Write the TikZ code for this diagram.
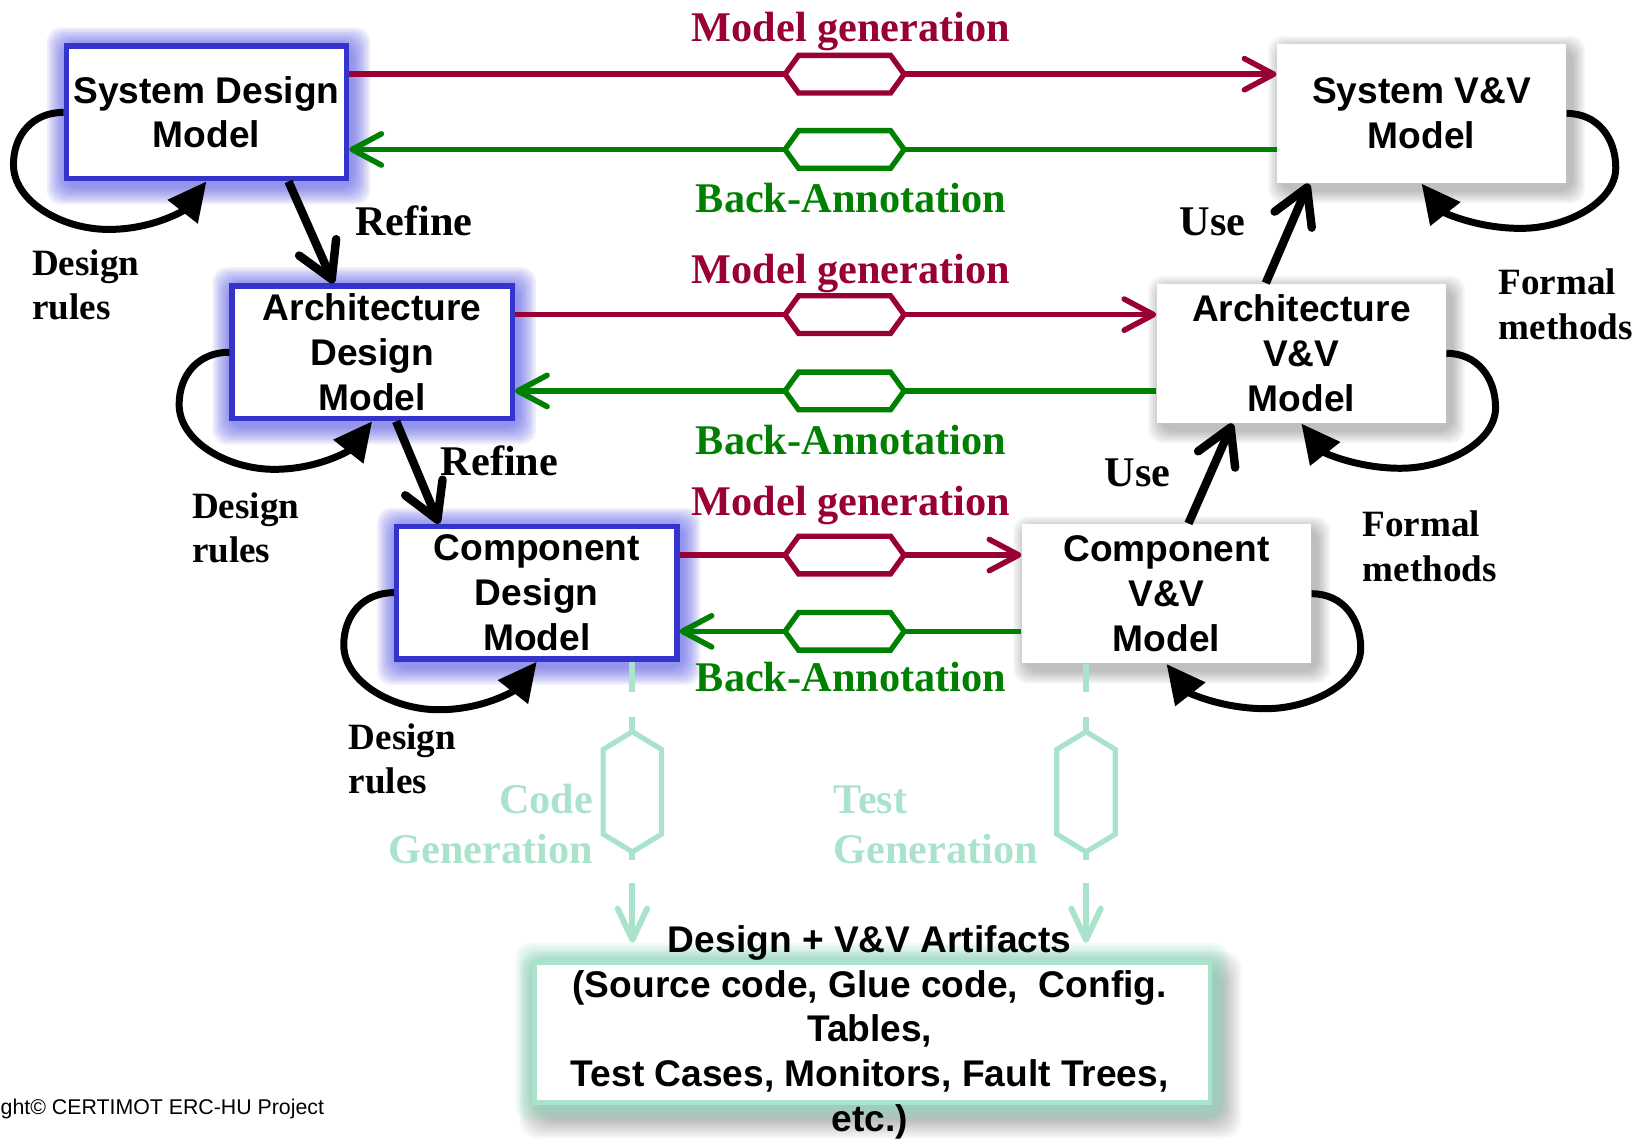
\documentclass[tikz,border=0pt]{standalone}
\usepackage{fontspec}
\setmainfont{Liberation Serif}
\setsansfont{Liberation Sans}
\usetikzlibrary{arrows.meta,calc}

\definecolor{wine}{HTML}{990033}
\definecolor{leaf}{HTML}{008000}
\definecolor{boxblue}{HTML}{3434CC}
\definecolor{haloblue}{HTML}{5252E2}
\definecolor{mint}{HTML}{A9E3CC}
\definecolor{mintglow}{HTML}{8FDDBE}

\pgfdeclarelayer{back}
\pgfsetlayers{back,main}

\tikzset{
  boxfont/.style={font=\sffamily\bfseries\fontsize{10.1}{12.15}\selectfont},
  lbl/.style={font=\rmfamily\bfseries\fontsize{11.5}{13}\selectfont, inner sep=0pt},
  smalllbl/.style={font=\rmfamily\bfseries\fontsize{10.1}{12}\selectfont, inner sep=0pt, anchor=base west},
  designbox/.style={boxfont, draw=boxblue, line width=1.45pt, fill=white,
    minimum width=2.68cm, minimum height=1.27cm, align=center, inner sep=0pt},
  vvbox/.style={boxfont, fill=white, minimum width=2.76cm, minimum height=1.33cm,
    align=center, inner sep=0pt},
  artbox/.style={draw=mint, line width=1.3pt, fill=white, minimum width=6.46cm,
    minimum height=1.34cm, inner sep=0pt},
  genline/.style={wine, line width=1.5pt, -{Straight Barb[length=8pt,width=8.5pt,round]}},
  backline/.style={leaf, line width=1.5pt, -{Straight Barb[length=8pt,width=8.5pt,round]}},
  bigarrow/.style={line width=2.3pt, -{Straight Barb[length=9.5pt,width=11pt,round]}},
  loopline/.style={line width=1.9pt, -{Triangle[length=10.5pt,width=10pt]}},
  mintline/.style={mint, line width=1.6pt},
  hexh/.pic={\path[pic actions, fill=white] (-57,0) -- (-44,-18) -- (44,-18) -- (57,0)
    -- (44,18) -- (-44,18) -- cycle;},
  hexv/.pic={\path[pic actions, fill=white] (0,-57.5) -- (28,-40.5) -- (28,40.5) -- (0,57.5)
    -- (-28,40.5) -- (-28,-40.5) -- cycle;},
}

\begin{document}
\begin{tikzpicture}[x=0.01cm, y=-0.01cm]
\useasboundingbox (0,0) rectangle (1568,1091);

% model boxes
\node[designbox] (sdm) at (197.5,107.5) {System Design\\Model};
\node[designbox] (adm) at (356,337) {Architecture\\Design\\Model};
\node[designbox] (cdm) at (513.5,567) {Component\\Design\\Model};
\node[vvbox] (svv) at (1360,108.5) {System V\&V\\Model};
\node[vvbox] (avv) at (1245,338) {Architecture\\V\&V\\Model};
\node[vvbox] (cvv) at (1116,568) {Component\\V\&V\\Model};
\node[artbox] (art) at (834.5,987.5) {};
\node[boxfont, align=center, inner sep=0pt] (arttext) at (832,987.5)
  {Design + V\&V Artifacts\\(Source code, Glue code,\ \ Config.\\Tables,\\Test Cases, Monitors, Fault Trees,\\etc.)};

% halos and shadows
\begin{pgfonlayer}{back}
  \foreach \n in {sdm,adm,cdm}{
    \foreach \k in {1,...,9}{
      \fill[haloblue, opacity=0.1, rounded corners=4pt]
        ($(\n.south west)+({2-2*\k},{4+2*\k})$) rectangle ($(\n.north east)+({2+2*\k},{3-2*\k})$);
    }
  }
  \foreach \n in {svv,avv,cvv}{
    \foreach \k in {1,...,8}{
      \fill[black, opacity=0.035, rounded corners=4pt]
        ($(\n.south west)+({5-1.6*\k},{6+1.6*\k})$) rectangle ($(\n.north east)+({5+1.6*\k},{6-1.6*\k})$);
    }
  }
  \foreach \k in {1,...,10}{
    \fill[black, opacity=0.03, rounded corners=5pt]
      ($(art.south west)+({8-2*\k},{12+2*\k})$) rectangle ($(art.north east)+({8+2*\k},{12-2*\k})$);
  }
  \foreach \k in {1,...,8}{
    \fill[mintglow, opacity=0.11, rounded corners=4pt]
      ($(art.south west)+({-2*\k},{2*\k})$) rectangle ($(art.north east)+({2*\k},{-2*\k})$);
  }
\end{pgfonlayer}

% model generation / back-annotation lanes
\coordinate (r1) at (0,71);
\coordinate (g1) at (0,143);
\coordinate (r2) at (0,301);
\coordinate (g2) at (0,374);
\coordinate (r3) at (0,531);
\coordinate (g3) at (0,604);
\coordinate (hx) at (808,0);
\draw[genline] (sdm.east |- r1) -- (svv.west |- r1);
\draw[backline] (svv.west |- g1) -- (sdm.east |- g1);
\draw[genline] (adm.east |- r2) -- (avv.west |- r2);
\draw[backline] (avv.west |- g2) -- (adm.east |- g2);
\draw[genline] (cdm.east |- r3) -- (cvv.west |- r3);
\draw[backline] (cvv.west |- g3) -- (cdm.east |- g3);
\foreach \c in {r1,r2,r3}{ \pic[draw=wine, line width=1.45pt] at (hx |- \c) {hexh}; }
\foreach \c in {g1,g2,g3}{ \pic[draw=leaf, line width=1.45pt] at (hx |- \c) {hexh}; }

\node[lbl, text=wine, anchor=base] (mg1) at (814,40) {Model generation};
\node[lbl, text=leaf, anchor=base] (ba1) at (814,203) {Back-Annotation};
\node[lbl, text=wine, anchor=base] (mg2) at (814,271) {Model generation};
\node[lbl, text=leaf, anchor=base] (ba2) at (814,435) {Back-Annotation};
\node[lbl, text=wine, anchor=base] (mg3) at (814,493) {Model generation};
\node[lbl, text=leaf, anchor=base] (ba3) at (814,662) {Back-Annotation};

% refine / use arrows
\coordinate (f1a) at (276,0);  \coordinate (f1b) at (319,0);
\coordinate (f2a) at (379,0);  \coordinate (f2b) at (420,0);
\coordinate (u1a) at (1211,0); \coordinate (u1b) at (1252,0);
\coordinate (u2a) at (1137,0); \coordinate (u2b) at (1179,0);
\draw[bigarrow] (sdm.south -| f1a) -- (adm.north -| f1b);
\draw[bigarrow] (adm.south -| f2a) -- (cdm.north -| f2b);
\draw[bigarrow] (avv.north -| u1a) -- (svv.south -| u1b);
\draw[bigarrow] (cvv.north -| u2a) -- (avv.south -| u2b);
\node[lbl, anchor=base west] (rf1) at (339,225) {Refine};
\node[lbl, anchor=base west] (rf2) at (421,455) {Refine};
\node[lbl, anchor=base west] (us1) at (1128,225) {Use};
\node[lbl, anchor=base west] (us2) at (1056,465) {Use};

% design rule loops
\foreach \n in {sdm,adm,cdm}{
  \draw[loopline] (\n.west)
    .. controls ($(\n.west)+(-30,0)$) and ($(\n.west)+(-48,22)$) .. ($(\n.west)+(-48,50)$)
    .. controls ($(\n.west)+(-48,85)$) and ($(\n.west)+(-2,112)$) .. ($(\n.west)+(43,112)$)
    .. controls ($(\n.west)+(85,112)$) and ($(\n.south)+(-22,28)$) .. (\n.south);
}
% formal method loops
\foreach \n in {svv,avv,cvv}{
  \draw[loopline] (\n.east)
    .. controls ($(\n.east)+(30,0)$) and ($(\n.east)+(47,24)$) .. ($(\n.east)+(47,52)$)
    .. controls ($(\n.east)+(47,85)$) and ($(\n.east)+(0,110)$) .. ($(\n.east)+(-44,110)$)
    .. controls ($(\n.east)+(-85,110)$) and ($(\n.south)+(22,28)$) .. (\n.south);
}
\node[smalllbl] (dr1a) at (30,264) {Design};
\node[smalllbl] (dr1b) at (30,306) {rules};
\node[smalllbl] (dr2a) at (183,496) {Design};
\node[smalllbl] (dr2b) at (183,538) {rules};
\node[smalllbl] (dr3a) at (333,717) {Design};
\node[smalllbl] (dr3b) at (333,759) {rules};
\node[smalllbl] (fm1a) at (1433,282) {Formal};
\node[smalllbl] (fm1b) at (1433,325) {methods};
\node[smalllbl] (fm2a) at (1303,513) {Formal};
\node[smalllbl] (fm2b) at (1303,556) {methods};

% code and test generation flows
\coordinate (cg) at (605,0);
\coordinate (tg) at (1039,0);
\foreach \s/\c in {cdm/cg, cvv/tg}{
  \draw[mintline] (\s.south -| \c) -- ($(\c)+(0,662)$);
  \draw[mintline] ($(\c)+(0,686)$) -- ($(\c)+(0,700)$);
  \pic[draw=mint, line width=1.4pt] at ($(\c)+(0,757.5)$) {hexv};
  \draw[mintline] ($(\c)+(0,815)$) -- ($(\c)+(0,823)$);
  \draw[mintline, -{Straight Barb[length=8.5pt,width=8pt,round]}]
    ($(\c)+(0,845)$) -- ($(\c)+(0,902)$);
}
\node[lbl, text=mint, anchor=base east] (cga) at (568,778) {Code};
\node[lbl, text=mint, anchor=base east] (cgb) at (568,826) {Generation};
\node[lbl, text=mint, anchor=base west] (tga) at (797,778) {Test};
\node[lbl, text=mint, anchor=base west] (tgb) at (797,826) {Generation};

\node[font=\sffamily\fontsize{5.8}{7}\selectfont, anchor=base west, inner sep=0pt]
  (copy) at (0,1066) {ght© CERTIMOT ERC-HU Project};
\end{tikzpicture}
\end{document}
